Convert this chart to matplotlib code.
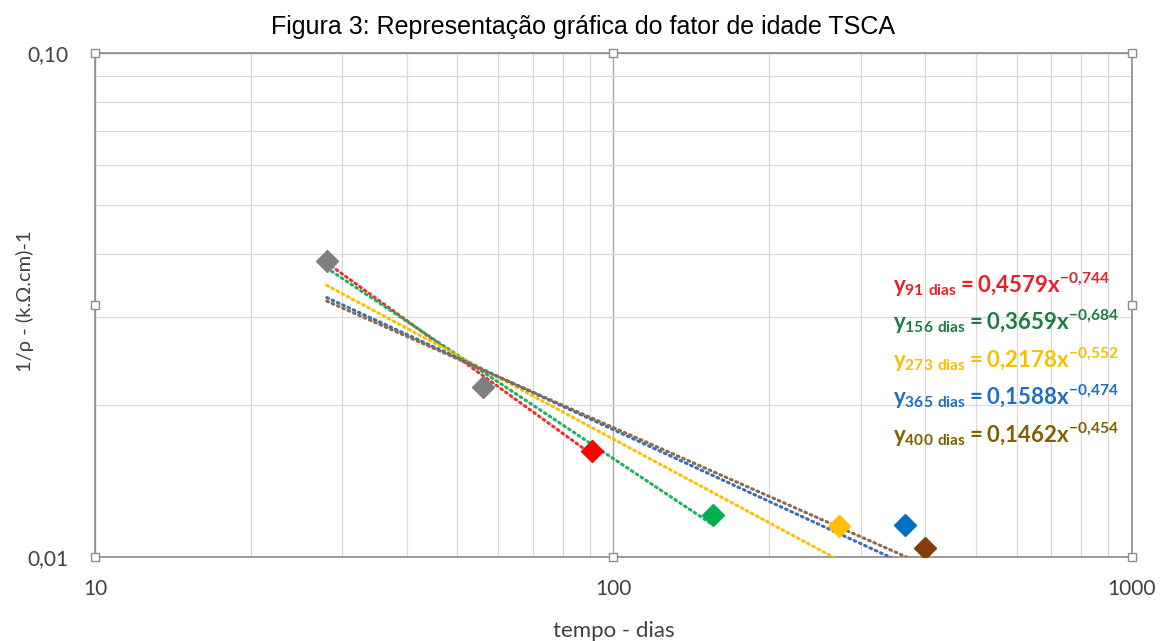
import numpy as np
import matplotlib
matplotlib.use("Agg")
import matplotlib.pyplot as plt
from matplotlib.ticker import FixedLocator, LogLocator, NullFormatter

plt.rcParams['mathtext.fontset'] = 'custom'
plt.rcParams['mathtext.rm'] = 'Lato'
plt.rcParams['mathtext.bf'] = 'Lato:bold'

# pontos em comum (28 e 56 dias)
shared_age = [28, 56]
shared_val = [0.0387, 0.0218]

# idade final de cada série e valor medido
series_name = ["91", "156", "273", "365", "400"]
series_age = [91, 156, 273, 365, 400]
series_val = [0.0162, 0.0121, 0.0115, 0.0116, 0.0104]

# linhas de tendência (potência) mostradas no gráfico
coef = [0.4579, 0.3659, 0.2178, 0.1588, 0.1462]
expo = [-0.744, -0.684, -0.552, -0.474, -0.454]
coef_txt = ["0,4579", "0,3659", "0,2178", "0,1588", "0,1462"]
expo_txt = ["-0,744", "-0,684", "-0,552", "-0,474", "-0,454"]

marker_colors = ["#FF0000", "#00B050", "#FFC000", "#0070C0", "#843C0C"]
line_colors = ["#F03030", "#20B060", "#FFC000", "#3A6FB0", "#8C6B50"]
text_colors = ["#E8202A", "#1E7B45", "#F2C200", "#1F6FC0", "#7F6000"]

fig = plt.figure(figsize=(11.66, 6.41), dpi=100)
ax = fig.add_axes([0.0815, 0.131, 0.889, 0.786])
ax.set_xscale("log")
ax.set_yscale("log")
ax.set_xlim(10, 1000)
ax.set_ylim(0.01, 0.10)

ax.xaxis.set_major_locator(FixedLocator([10, 100, 1000]))
ax.xaxis.set_minor_locator(LogLocator(base=10, subs=np.arange(2, 10)))
ax.xaxis.set_minor_formatter(NullFormatter())
ax.set_xticklabels(["10", "100", "1000"])
ax.yaxis.set_major_locator(FixedLocator([0.01, 0.1]))
ax.yaxis.set_minor_locator(LogLocator(base=10, subs=np.arange(2, 10)))
ax.yaxis.set_minor_formatter(NullFormatter())
ax.set_yticklabels(["0,01", "0,10"])

ax.grid(True, which="minor", color="#D9D9D9", lw=0.9)
ax.grid(True, which="major", color="#A6A6A6", lw=1.0)
ax.set_axisbelow(True)
ax.tick_params(which="both", length=0)
ax.tick_params(axis="x", pad=16, labelsize=15, labelcolor="#404040")
ax.tick_params(axis="y", pad=19, labelsize=15, labelcolor="#404040")
for lab in ax.get_xticklabels() + ax.get_yticklabels():
    lab.set_family("Lato")
for sp in ax.spines.values():
    sp.set_color("#8C8C8C")
    sp.set_linewidth(1.2)

for i in range(len(series_age)):
    x = np.geomspace(28, series_age[i], 200)
    ax.plot(x, coef[i] * x ** expo[i], color=line_colors[i], lw=2.2,
            linestyle=(0, (0.6, 1.3)), dash_capstyle="round", zorder=3)

for i in range(len(series_age)):
    ax.plot(series_age[i], series_val[i], marker="D", ms=11,
            color=marker_colors[i], linestyle="None", zorder=5)
ax.plot(shared_age, shared_val, marker="D", ms=11, color="#7F7F7F",
        linestyle="None", zorder=6)

# equações
for i in range(len(series_name)):
    s = (r"$\mathbf{y_{%s\ dias} = %s x^{%s}}$"
         % (series_name[i], coef_txt[i].replace(",", "{,}"),
            expo_txt[i].replace(",", "{,}")))
    ax.text(0.7695, 0.541 - i * 0.0745, s, transform=ax.transAxes,
            color=text_colors[i], fontsize=16, ha="left", va="center",
            zorder=7)

# alças de seleção do gráfico
hx = [0, 0.5, 1, 0, 1, 0, 0.5, 1]
hy = [0, 0, 0, 0.5, 0.5, 1, 1, 1]
ax.plot(hx, hy, "s", ms=6, mfc="white", mec="#8C8C8C", mew=1,
        transform=ax.transAxes, clip_on=False, zorder=10)

ax.set_xlabel("tempo - dias", fontsize=16, color="#404040", family="Lato")
ax.xaxis.set_label_coords(0.5, -0.146)
ax.xaxis.label.set_va("center")
ax.set_ylabel("1/ρ - (k.Ω.cm)-1", fontsize=14.5, color="#404040",
              family="Lato")
ax.yaxis.set_label_coords(-0.0675, 0.508)
ax.yaxis.label.set_va("center")
fig.text(0.5, 1 - 34 / 641, "Figura 3: Representação gráfica do fator de idade TSCA",
         ha="center", va="baseline", fontsize=18, family="Liberation Sans")

fig.savefig("out.png", dpi=100)
